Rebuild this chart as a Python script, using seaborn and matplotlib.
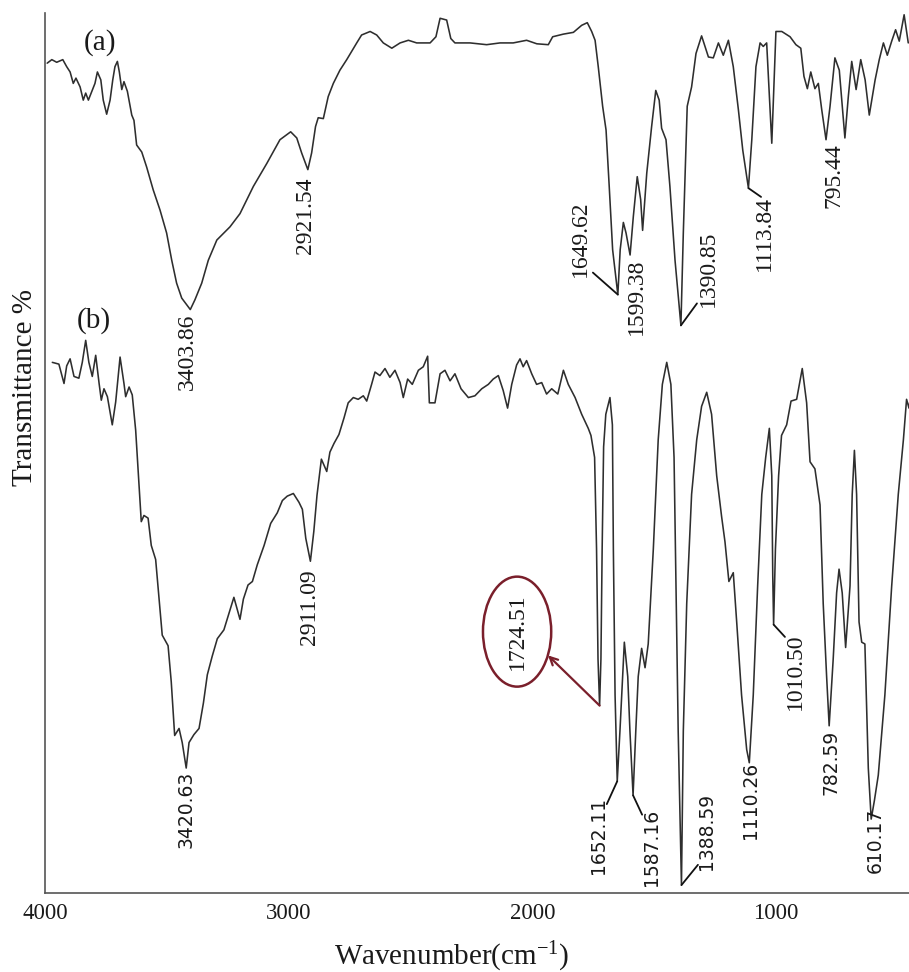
import matplotlib
matplotlib.use("Agg")
import matplotlib.pyplot as plt
import seaborn as sns
import pandas as pd
from matplotlib.patches import Ellipse

# ---------------- spectrum (a) ----------------
A_wn = [3991, 3972, 3952, 3927, 3911, 3897, 3884, 3873, 3856, 3843,
        3833, 3822, 3808, 3795, 3785, 3771, 3761, 3747, 3733, 3722,
        3713, 3703, 3695, 3685, 3676, 3662, 3644, 3635, 3624, 3603,
        3583, 3556, 3528, 3501, 3480, 3460, 3439, 3403.86, 3385, 3357,
        3330, 3295, 3241, 3200, 3145, 3090, 3036, 2992, 2967, 2947,
        2921.54, 2906, 2890, 2879, 2858, 2838, 2817, 2790, 2762, 2721,
        2701, 2666, 2639, 2612, 2577, 2543, 2509, 2475, 2420, 2396,
        2379, 2352, 2335, 2318, 2256, 2188, 2133, 2079, 2024, 1982,
        1935, 1917, 1873, 1832, 1798, 1775, 1757, 1743, 1730, 1712,
        1698, 1685, 1671, 1649.62, 1640, 1627, 1616, 1599.38, 1586, 1570,
        1556, 1548, 1531, 1511, 1494, 1480, 1470, 1452, 1436, 1415,
        1390.85, 1381, 1365, 1347, 1329, 1306, 1278, 1258, 1237, 1217,
        1196, 1176, 1155, 1137, 1113.84, 1100, 1083, 1066, 1053, 1039,
        1018, 1001, 977, 943, 919, 899, 886, 872, 858, 841,
        827, 813, 795.44, 779, 759, 741, 718, 704, 690, 672,
        653, 635, 618, 594, 577, 560, 544, 526, 510, 495,
        475, 458]
A_T = [94.3, 94.7, 94.4, 94.7, 93.9, 93.3, 92.0, 92.6, 91.6, 90.1,
       90.9, 90.1, 91.1, 92.0, 93.3, 92.4, 90.1, 88.5, 90.1, 92.4,
       93.9, 94.5, 93.3, 91.3, 92.2, 91.1, 88.4, 87.8, 85.0, 84.2,
       82.5, 79.9, 77.6, 75.0, 71.9, 69.3, 67.6, 66.3, 67.4, 69.3,
       71.9, 74.2, 75.7, 77.2, 80.3, 82.9, 85.6, 86.5, 85.8, 84.1,
       82.2, 84.1, 87.1, 88.1, 88.0, 90.5, 92.0, 93.5, 94.7, 96.6,
       97.5, 97.9, 97.5, 96.6, 96.0, 96.6, 96.9, 96.6, 96.6, 97.3,
       99.4, 99.2, 97.1, 96.6, 96.6, 96.4, 96.6, 96.6, 96.9, 96.5,
       96.4, 97.3, 97.6, 97.8, 98.6, 98.9, 97.9, 96.9, 93.9, 89.4,
       86.7, 80.3, 73.1, 68.0, 73.1, 76.2, 75.0, 72.5, 76.9, 81.4,
       78.8, 75.3, 81.8, 87.1, 91.2, 90.1, 86.9, 85.6, 80.3, 71.9,
       64.5, 75.0, 89.4, 91.6, 95.4, 97.4, 95.0, 94.9, 96.6, 95.2,
       96.9, 93.9, 89.0, 84.4, 80.1, 85.6, 93.9, 96.6, 96.2, 96.6,
       85.2, 97.9, 97.9, 97.3, 96.4, 96.0, 92.8, 91.4, 93.3, 91.4,
       92.0, 89.0, 85.6, 89.4, 94.9, 93.5, 85.8, 90.5, 94.5, 91.3,
       94.7, 92.4, 88.4, 92.4, 94.7, 96.6, 95.2, 96.8, 98.1, 96.8,
       99.8, 96.6]

# ---------------- spectrum (b) ----------------
B_wn = [3970, 3943, 3922, 3911, 3897, 3881, 3861, 3847, 3833, 3820,
        3806, 3792, 3778, 3769, 3758, 3744, 3724, 3710, 3692, 3676,
        3669, 3655, 3642, 3628, 3617, 3605, 3594, 3577, 3564, 3546,
        3532, 3519, 3495, 3482, 3468, 3450, 3437, 3420.63, 3409, 3389,
        3368, 3350, 3334, 3314, 3293, 3266, 3245, 3225, 3200, 3186,
        3167, 3149, 3129, 3101, 3074, 3047, 3026, 3006, 2981, 2958,
        2944, 2930, 2911.09, 2897, 2884, 2866, 2844, 2831, 2814, 2794,
        2773, 2756, 2735, 2715, 2694, 2680, 2660, 2646, 2626, 2605,
        2585, 2564, 2543, 2530, 2512, 2493, 2468, 2448, 2430, 2423,
        2400, 2379, 2359, 2338, 2318, 2293, 2263, 2236, 2208, 2181,
        2161, 2140, 2120, 2102, 2085, 2065, 2051, 2038, 2024, 2003,
        1983, 1962, 1942, 1921, 1896, 1873, 1853, 1825, 1798, 1771,
        1760, 1745, 1737, 1731, 1724.51, 1719, 1714, 1708, 1699, 1682,
        1672, 1668, 1661, 1652.11, 1641, 1623, 1609, 1600, 1587.16, 1576,
        1566, 1552, 1538, 1525, 1504, 1484, 1467, 1449, 1432, 1419,
        1411, 1402, 1388.59, 1381, 1367, 1347, 1326, 1306, 1285, 1265,
        1244, 1224, 1210, 1194, 1176, 1162, 1142, 1121, 1110.26, 1094,
        1076, 1059, 1043, 1028, 1018, 1014, 1010.50, 1003, 990, 978,
        957, 939, 916, 893, 875, 861, 841, 820, 807, 793,
        782.59, 766, 752, 742, 729, 715, 697, 688, 679, 670,
        660, 649, 636, 622, 610.17, 597, 581, 554, 526, 499,
        478, 465, 455, 437]
B_T = [60.3, 60.1, 57.9, 59.9, 60.7, 58.7, 58.5, 60.3, 62.8, 60.3,
       58.7, 61.1, 57.9, 56.0, 57.3, 56.4, 53.2, 55.8, 60.9, 57.9,
       56.4, 57.5, 56.6, 52.6, 47.7, 42.2, 42.9, 42.6, 39.5, 37.9,
       33.4, 29.3, 28.1, 24.0, 17.9, 18.7, 17.1, 14.2, 17.1, 18.0,
       18.7, 21.6, 24.8, 26.9, 28.9, 29.9, 31.8, 33.6, 31.1, 33.4,
       35.0, 35.4, 37.3, 39.5, 42.0, 43.2, 44.6, 45.1, 45.4, 44.4,
       43.6, 40.3, 37.7, 41.1, 45.2, 49.3, 47.9, 50.1, 51.1, 52.1,
       54.0, 55.7, 56.3, 56.1, 56.5, 55.9, 57.8, 59.2, 58.8, 59.6,
       58.6, 59.4, 58.0, 56.3, 58.4, 57.8, 59.4, 59.8, 61.0, 55.7,
       55.7, 59.0, 59.4, 58.2, 59.0, 57.3, 56.3, 56.5, 57.3, 57.8,
       58.4, 58.8, 57.1, 55.1, 57.8, 60.0, 60.7, 59.8, 60.5, 59.0,
       57.8, 58.0, 56.7, 57.3, 56.7, 59.4, 57.8, 56.3, 54.4, 52.8,
       52.0, 49.5, 39.1, 26.6, 21.3, 26.6, 39.1, 50.7, 54.4, 56.3,
       53.2, 39.1, 22.5, 12.7, 18.4, 28.5, 24.6, 18.4, 11.1, 18.4,
       24.6, 27.8, 25.6, 28.3, 39.1, 51.5, 57.8, 60.3, 57.8, 49.5,
       34.9, 18.4, 0.9, 18.4, 32.9, 45.3, 51.5, 55.3, 56.9, 54.4,
       47.4, 42.8, 39.9, 35.4, 36.4, 30.8, 22.5, 16.3, 14.8, 22.5,
       34.9, 45.3, 49.5, 52.8, 47.4, 36.0, 30.5, 39.1, 47.4, 52.0,
       53.2, 55.9, 56.1, 59.6, 55.7, 49.0, 48.2, 44.1, 32.9, 24.6,
       19.0, 26.6, 34.1, 36.8, 34.1, 27.9, 34.9, 45.3, 50.3, 45.3,
       30.8, 28.5, 28.3, 14.2, 8.4, 10.5, 13.4, 22.5, 34.9, 45.3,
       51.5, 56.1, 55.1, 59.0]

# labelled band positions (cm-1)
A_peaks = [3403.86, 2921.54, 1649.62, 1599.38, 1390.85, 1113.84, 795.44]
B_peaks = [3420.63, 2911.09, 1724.51, 1652.11, 1587.16, 1388.59,
           1110.26, 1010.50, 782.59, 610.17]
XTICKS = [4000, 3000, 2000, 1000]

sns.set_theme(style="white")
plt.rcParams['font.family'] = ['Liberation Serif', 'DejaVu Serif']
plt.rcParams['mathtext.default'] = 'regular'

fig = plt.figure(figsize=(9.09, 9.72), dpi=100)
ax = fig.add_axes([45 / 909, 79 / 972, 864 / 909, 880 / 972])

LINE = '#2e2e2e'
TXT = '#1a1a1a'
df_a = pd.DataFrame({'wn': A_wn, 'T': A_T})
df_b = pd.DataFrame({'wn': B_wn, 'T': B_T})
sns.lineplot(data=df_a, x='wn', y='T', ax=ax, color=LINE, lw=1.15,
             estimator=None, sort=False)
sns.lineplot(data=df_b, x='wn', y='T', ax=ax, color=LINE, lw=1.15,
             estimator=None, sort=False)

ax.set_xlim(4000, 455)
ax.set_ylim(0, 100)
ax.set_xticks(XTICKS)
ax.set_xticklabels([str(t) for t in XTICKS])
ax.set_yticks([])
ax.tick_params(axis='x', length=0, pad=7, labelsize=16.5, colors=TXT)
for s in ['top', 'right']:
    ax.spines[s].set_visible(False)
for s in ['left', 'bottom']:
    ax.spines[s].set_color('#555555')
    ax.spines[s].set_linewidth(1.2)

ax.set_xlabel('Wavenumber(cm$^{-1}$)', fontsize=21, color=TXT)
ax.xaxis.set_label_coords(0.471, -0.053)
ax.set_ylabel('Transmittance %', fontsize=21, color=TXT)
ax.yaxis.set_label_coords(-0.008, 0.575)

ax.text(3774, 96.7, '(a)', fontsize=21, ha='center', va='center', color=TXT)
ax.text(3799, 65.0, '(b)', fontsize=21, ha='center', va='center', color=TXT)


def t_at(wn_list, t_list, v):
    return t_list[wn_list.index(v)]


SERIF_LBL = dict(fontsize=17, rotation=90, ha='center', va='center',
                 color=TXT)
SANS_LBL = dict(fontsize=13.5, rotation=90, ha='center', va='center',
                color=TXT, family=['DejaVu Sans'])

# text centre, optional leader start and label style for each band
a_layout = {
    3403.86: ((3415, 61.5), None, SERIF_LBL),
    2921.54: ((2933, 77.0), None, SERIF_LBL),
    1649.62: ((1805, 74.4), (1752, 70.5), SERIF_LBL),
    1599.38: ((1575, 67.8), None, SERIF_LBL),
    1390.85: ((1280, 70.9), (1325, 67.0), SERIF_LBL),
    1113.84: ((1050, 75.0), (1062, 79.1), SERIF_LBL),
    795.44: ((763, 81.5), None, SERIF_LBL),
}
b_layout = {
    3420.63: ((3420.63, 9.5), None, SANS_LBL),
    2911.09: ((2913, 32.5), None, SERIF_LBL),
    1652.11: ((1731, 6.5), (1695, 10.1), SANS_LBL),
    1587.16: ((1510, 5.2), (1550, 8.9), SANS_LBL),
    1388.59: ((1284, 7.0), (1321, 3.2), SANS_LBL),
    1110.26: ((1105, 10.5), None, SANS_LBL),
    1010.50: ((923, 25.1), (964, 29.1), SERIF_LBL),
    782.59: ((775, 14.8), None, SANS_LBL),
    610.17: ((594, 6.0), None, SANS_LBL),
}

for peaks, wn, tt, layout in [(A_peaks, A_wn, A_T, a_layout),
                              (B_peaks, B_wn, B_T, b_layout)]:
    for p in peaks:
        if p not in layout:
            continue
        (tx, ty), lead, style = layout[p]
        ax.text(tx, ty, f'{p:.2f}', **style)
        if lead is not None:
            ax.plot([lead[0], p], [lead[1], t_at(wn, tt, p)],
                    color='#111111', lw=1.3)

# highlighted carbonyl band
RED = '#7a1f2b'
ax.add_patch(Ellipse((2063, 29.7), width=280, height=12.5, fill=False,
                     edgecolor=RED, lw=1.8))
ax.text(2063, 29.7, f'{1724.51:.2f}', **SERIF_LBL)
ax.annotate('', xy=(1936, 27.0), xytext=(1724.51, t_at(B_wn, B_T, 1724.51)),
            arrowprops=dict(arrowstyle='->', color=RED, lw=1.6,
                            shrinkA=0, shrinkB=0, mutation_scale=14))

fig.savefig('out.png', dpi=100)
